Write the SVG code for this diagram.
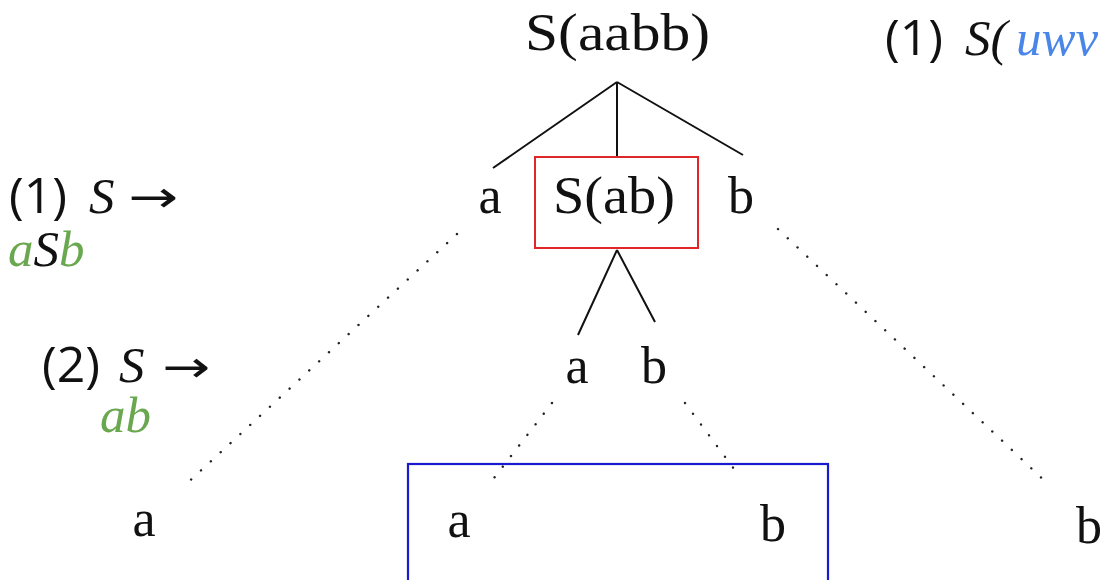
<svg xmlns="http://www.w3.org/2000/svg" width="1105" height="580" viewBox="0 0 1105 580">
<style>
.t{font-family:"Liberation Serif",serif;font-size:52px;fill:#111}
.s{font-family:"Open Sans","Liberation Sans",sans-serif;font-size:50px;fill:#111}
.i{font-family:"Liberation Serif",serif;font-style:italic;font-size:51px;fill:#111}
.ar{font-family:"DejaVu Sans",sans-serif;font-size:44px;fill:#111}
.g{fill:#6aa84f}
.bl{fill:#4a86e8}
.solid{stroke:#111;stroke-width:2;fill:none}
.dot{stroke:#222;stroke-width:2.4;stroke-linecap:round;stroke-dasharray:0.1 13.3;fill:none}
</style>
<rect width="1105" height="580" fill="#fff"/>
<g id="connectors">
<path class="solid" d="M617 82 L493 168 M617 82 L617 157 M617 82 L743 155"/>
<path class="solid" d="M617 250 L578 335 M617 250 L655 322"/>
<path class="dot" d="M457 234 L183 487"/>
<path class="dot" d="M778 229 L1049 485"/>
<path class="dot" d="M552 403 L487 487"/>
<path class="dot" d="M685 403 L740 477"/>
</g>
<g id="root"><text class="t" x="525" y="50" textLength="185" lengthAdjust="spacingAndGlyphs">S(aabb)</text></g>
<g id="n-a1"><text class="t" x="490" y="213" text-anchor="middle">a</text></g>
<g id="n-Sab"><rect x="535" y="157" width="163" height="91" fill="none" stroke="#e02626" stroke-width="2"/><text class="t" x="553" y="213" textLength="122" lengthAdjust="spacingAndGlyphs">S(ab)</text></g>
<g id="n-b1"><text class="t" x="741" y="213" text-anchor="middle">b</text></g>
<g id="n-a2"><text class="t" x="577" y="383" text-anchor="middle">a</text></g>
<g id="n-b2"><text class="t" x="654" y="383" text-anchor="middle">b</text></g>
<g id="n-a-left"><text class="t" x="144" y="536" text-anchor="middle">a</text></g>
<g id="n-box"><rect x="408" y="464" width="420" height="120" fill="none" stroke="#1a1acf" stroke-width="2.2"/>
<text class="t" x="459" y="537" text-anchor="middle">a</text>
<text class="t" x="773" y="541" text-anchor="middle">b</text></g>
<g id="n-b-right"><text class="t" x="1089" y="543" text-anchor="middle">b</text></g>
<g id="rule1">
<text x="9" y="213"><tspan class="s">(1)</tspan><tspan class="i" x="89">S</tspan></text>
<text class="ar" x="128" y="212" textLength="50" lengthAdjust="spacingAndGlyphs">→</text>
<text class="i" x="8" y="266"><tspan class="g">a</tspan>S<tspan class="g">b</tspan></text>
</g>
<g id="rule2">
<text x="42" y="382"><tspan class="s">(2)</tspan><tspan class="i" x="119">S</tspan></text>
<text class="ar" x="162" y="382" textLength="48" lengthAdjust="spacingAndGlyphs">→</text>
<text class="i g" x="100" y="432">ab</text>
</g>
<g id="rule-top">
<text x="885" y="55"><tspan class="s">(1)</tspan><tspan class="i" x="965">S(</tspan><tspan class="i bl" x="1016">uwv</tspan></text>
</g>
</svg>
